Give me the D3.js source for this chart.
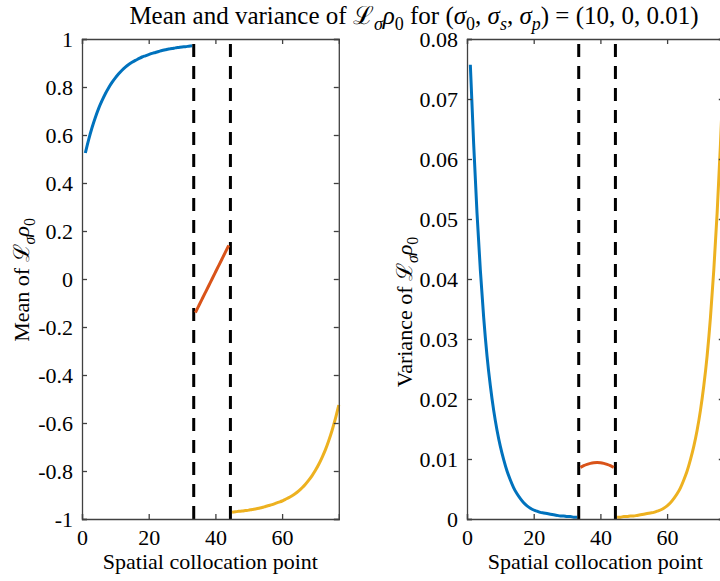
<!DOCTYPE html>
<html>
<head>
<meta charset="utf-8">
<script src="https://cdnjs.cloudflare.com/ajax/libs/d3/7.8.5/d3.min.js"></script>
<style>
body { margin: 0; background: #fff; overflow: hidden; }
svg { display: block; font-family: "Liberation Serif", "Times New Roman", serif; }
</style>
</head>
<body>
<svg id="chart" width="720" height="581"></svg>
<script>
'use strict';

const WIDTH = 720;
const HEIGHT = 581;

// collocation points, split into three regions
const PTS_LEFT = d3.range(1, 34);   // 1..33
const PTS_MID = d3.range(34, 45);   // 34..44
const PTS_RIGHT = d3.range(45, 78); // 45..77
const SPLITS = [33.5, 44.5];

// mean of L_sigma rho_0
const MEAN_LEFT = [0.525, 0.581, 0.630, 0.673, 0.711, 0.743, 0.772, 0.797, 0.819, 0.838,
    0.855, 0.870, 0.883, 0.894, 0.903, 0.911, 0.918, 0.925, 0.930, 0.935,
    0.940, 0.944, 0.948, 0.952, 0.955, 0.958, 0.960, 0.963, 0.965, 0.967,
    0.968, 0.970, 0.972];
const MEAN_MID = [-0.140, -0.112, -0.084, -0.056, -0.028, 0.000, 0.028, 0.056, 0.084, 0.112, 0.140];
const MEAN_RIGHT = [-0.972, -0.970, -0.968, -0.967, -0.965, -0.963, -0.960, -0.958, -0.955, -0.952,
    -0.948, -0.944, -0.940, -0.935, -0.930, -0.925, -0.918, -0.911, -0.903, -0.894,
    -0.883, -0.870, -0.855, -0.838, -0.819, -0.797, -0.772, -0.743, -0.711, -0.673,
    -0.630, -0.581, -0.525];

// variance of L_sigma rho_0
const VAR_LEFT = [0.0757, 0.0625, 0.0510, 0.0415, 0.0336, 0.0272, 0.0222, 0.0181, 0.0148, 0.0121,
    0.0099, 0.0080, 0.0065, 0.0052, 0.0042, 0.0034, 0.0027, 0.0022, 0.0018, 0.0015,
    0.0013, 0.0011, 0.0010, 0.0009, 0.0008, 0.0007, 0.0006, 0.0005, 0.0005, 0.0004,
    0.0004, 0.0003, 0.0003];
const VAR_MID = [0.0086, 0.00889, 0.00911, 0.00927, 0.00937, 0.0094, 0.00937, 0.00927, 0.00911, 0.00889, 0.0086];
const VAR_RIGHT = [0.0003, 0.0003, 0.0004, 0.0004, 0.0005, 0.0005, 0.0006, 0.0007, 0.0008, 0.0009,
    0.0010, 0.0011, 0.0013, 0.0015, 0.0018, 0.0022, 0.0027, 0.0034, 0.0042, 0.0052,
    0.0065, 0.0080, 0.0099, 0.0121, 0.0148, 0.0181, 0.0222, 0.0272, 0.0336, 0.0415,
    0.0510, 0.0625, 0.0757];

const X_TICKS = [0, 20, 40, 60];
const MEAN_TICKS = [-1, -0.8, -0.6, -0.4, -0.2, 0, 0.2, 0.4, 0.6, 0.8, 1];
const VAR_TICKS = [0, 0.01, 0.02, 0.03, 0.04, 0.05, 0.06, 0.07, 0.08];

// matlab default line colors
const COLOR = ['#0072BD', '#D95319', '#EDB120'];
const AXIS_COLOR = '#404040';
const SERIF = '"Liberation Serif", "Times New Roman", serif';
const FONT = 22;
const TITLE_FONT = 25;

const svg = d3.select('#chart');

// text with math bits: [str, kind] kind = n | i | sub | isub
function richText(sel, parts, size) {
    let shift = 0;
    parts.forEach(function(p) {
        let t = sel.append('tspan').text(p[0]);
        let sub = p[1] == 'sub' || p[1] == 'isub';
        let want = sub ? Math.round(size * 0.25) : 0;
        if (want != shift) {
            t.attr('dy', want - shift);
            shift = want;
        }
        if (p[1] == 'i' || p[1] == 'isub') t.attr('font-style', 'italic');
        if (sub) t.attr('font-size', size * 0.72);
    });
    return sel;
}

const L_RHO = [['\u2112', 'n'], ['\u03c3', 'isub'], ['\u03c1', 'i'], ['0', 'sub']];

function panel(opt) {
    const x = d3.scaleLinear().domain([0, 77]).range([opt.left, opt.left + 256.8]);
    const y = d3.scaleLinear().domain(opt.yDomain).range([519, 39]);
    const g = svg.append('g');

    // split lines
    g.selectAll('line.split')
        .data(SPLITS)
        .enter()
        .append('line')
        .attr('x1', d => x(d)).attr('x2', d => x(d))
        .attr('y1', y.range()[0]).attr('y2', y.range()[1])
        .attr('stroke', '#000')
        .attr('stroke-width', 3)
        .attr('stroke-dasharray', '13,9');

    // series
    const line = d3.line().curve(d3.curveMonotoneX).x(d => x(d[0])).y(d => y(d[1]));
    opt.series.forEach(function(s, i) {
        g.append('path')
            .datum(s[0].map((p, k) => [p, s[1][k]]))
            .attr('d', line)
            .attr('fill', 'none')
            .attr('stroke', COLOR[i])
            .attr('stroke-width', 3)
            .attr('stroke-linejoin', 'round');
    });

    // axes, ticks inward on all sides
    const tk = 5;
    const fmt = d => String(d);
    g.append('g').attr('transform', 'translate(0,' + y.range()[0] + ')')
        .call(d3.axisBottom(x).tickValues(X_TICKS).tickSize(-tk).tickPadding(10).tickFormat(fmt));
    g.append('g').attr('transform', 'translate(0,' + y.range()[1] + ')')
        .call(d3.axisTop(x).tickValues(X_TICKS).tickSize(-tk).tickFormat(''));
    g.append('g').attr('transform', 'translate(' + x.range()[0] + ',0)')
        .call(d3.axisLeft(y).tickValues(opt.yTicks).tickSize(-tk).tickPadding(9).tickFormat(fmt));
    if (opt.rightAxis) {
        g.append('g').attr('transform', 'translate(' + x.range()[1] + ',0)')
            .call(d3.axisRight(y).tickValues(opt.yTicks).tickSize(-tk).tickFormat(''));
    }
    g.selectAll('.domain').attr('stroke', AXIS_COLOR).attr('stroke-width', 1.3);
    g.selectAll('.tick line').attr('stroke', AXIS_COLOR).attr('stroke-width', 1.3);
    g.selectAll('g').attr('font-family', SERIF).attr('font-size', FONT);
    g.selectAll('.tick text')
        .attr('font-family', SERIF)
        .attr('font-size', FONT)
        .attr('fill', '#000');

    // labels
    g.append('text')
        .attr('x', (x.range()[0] + x.range()[1]) / 2)
        .attr('y', 569)
        .attr('text-anchor', 'middle')
        .attr('font-size', FONT)
        .text('Spatial collocation point');

    const yl = g.append('text')
        .attr('transform', 'translate(' + opt.ylabelX + ',' + opt.ylabelY + ') rotate(-90)')
        .attr('text-anchor', 'middle')
        .attr('font-size', FONT);
    richText(yl, [[opt.ylabel + ' ', 'n']].concat(L_RHO), FONT);
}

panel({
    left: 82,
    yDomain: [-1, 1],
    yTicks: MEAN_TICKS,
    rightAxis: true,
    ylabel: 'Mean of',
    ylabelX: 29,
    ylabelY: 280,
    series: [[PTS_LEFT, MEAN_LEFT], [PTS_MID, MEAN_MID], [PTS_RIGHT, MEAN_RIGHT]]
});

panel({
    left: 467,
    yDomain: [0, 0.08],
    yTicks: VAR_TICKS,
    rightAxis: true,
    ylabel: 'Variance of',
    ylabelX: 412,
    ylabelY: 312,
    series: [[PTS_LEFT, VAR_LEFT], [PTS_MID, VAR_MID], [PTS_RIGHT, VAR_RIGHT]]
});

// title
const title = svg.append('text')
    .attr('x', 414)
    .attr('y', 24)
    .attr('text-anchor', 'middle')
    .attr('font-size', TITLE_FONT);
richText(title, [['Mean and variance of ', 'n']].concat(L_RHO, [
    [' for (', 'n'], ['\u03c3', 'i'], ['0', 'sub'], [', ', 'n'],
    ['\u03c3', 'i'], ['s', 'isub'], [', ', 'n'],
    ['\u03c3', 'i'], ['p', 'isub'], [') = (10, 0, 0.01)', 'n']
]), TITLE_FONT);
</script>
</body>
</html>
